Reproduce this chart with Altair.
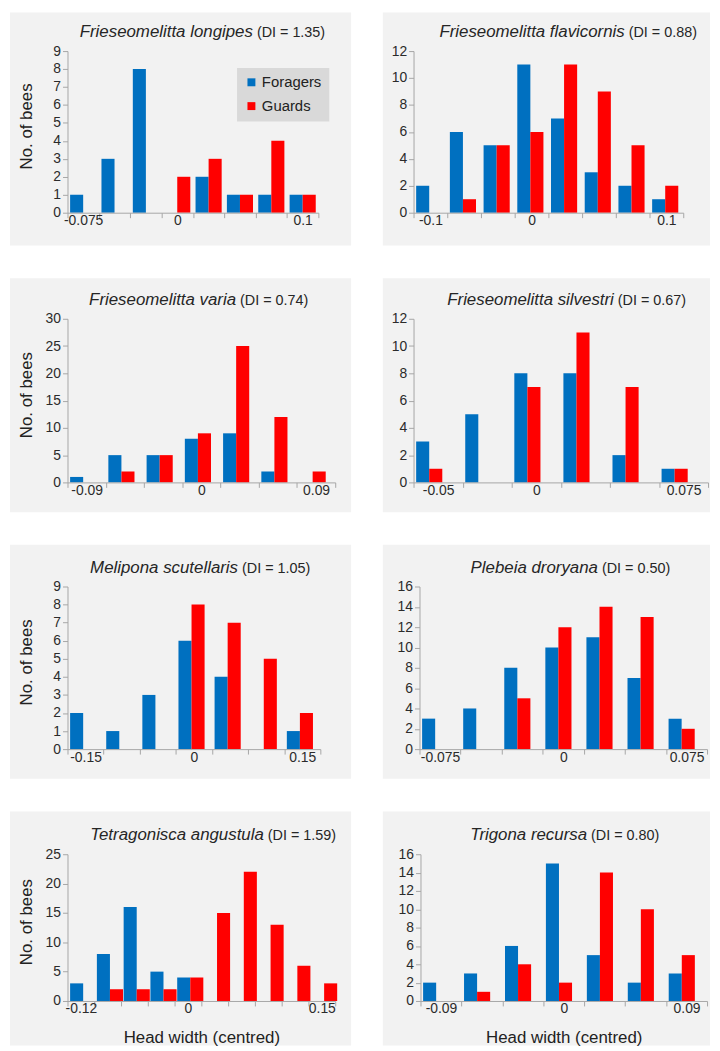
import json
import altair as alt
import pandas as pd

FONT = "Liberation Sans"
BLUE = "#0070c0"
RED = "#ff0000"
PANEL_BG = "#f2f2f2"
AXIS_GRAY = "#a6a6a6"
SERIES = ["Foragers", "Guards"]

species = ["Frieseomelitta longipes", "Frieseomelitta flavicornis",
           "Frieseomelitta varia", "Frieseomelitta silvestri",
           "Melipona scutellaris", "Plebeia droryana",
           "Tetragonisca angustula", "Trigona recursa"]
di_text = ["(DI = 1.35)", "(DI = 0.88)", "(DI = 0.74)", "(DI = 0.67)",
           "(DI = 1.05)", "(DI = 0.50)", "(DI = 1.59)", "(DI = 0.80)"]

longipes_foragers = [1, 3, 8, 0, 2, 1, 1, 1]
longipes_guards = [0, 0, 0, 2, 3, 1, 4, 1]
longipes_labels = ["-0.075", "", "", "0", "", "", "", "0.1"]

flavicornis_foragers = [2, 6, 5, 11, 7, 3, 2, 1]
flavicornis_guards = [0, 1, 5, 6, 11, 9, 5, 2]
flavicornis_labels = ["-0.1", "", "", "0", "", "", "", "0.1"]

varia_foragers = [1, 5, 5, 8, 9, 2, 0]
varia_guards = [0, 2, 5, 9, 25, 12, 2]
varia_labels = ["-0.09", "", "", "0", "", "", "0.09"]

silvestri_foragers = [3, 5, 8, 8, 2, 1]
silvestri_guards = [1, 0, 7, 11, 7, 1]
silvestri_labels = ["-0.05", "", "0", "", "", "0.075"]

scutellaris_foragers = [2, 1, 3, 6, 4, 0, 1]
scutellaris_guards = [0, 0, 0, 8, 7, 5, 2]
scutellaris_labels = ["-0.15", "", "", "0", "", "", "0.15"]

droryana_foragers = [3, 4, 8, 10, 11, 7, 3]
droryana_guards = [0, 0, 5, 12, 14, 13, 2]
droryana_labels = ["-0.075", "", "", "0", "", "", "0.075"]

angustula_foragers = [3, 8, 16, 5, 4, 0, 0, 0, 0, 0]
angustula_guards = [0, 2, 2, 2, 4, 15, 22, 13, 6, 3]
angustula_labels = ["-0.12", "", "", "", "0", "", "", "", "", "0.15"]

recursa_foragers = [2, 3, 6, 15, 5, 2, 3]
recursa_guards = [0, 1, 4, 2, 14, 10, 5]
recursa_labels = ["-0.09", "", "", "0", "", "", "0.09"]

y_max = [9, 12, 30, 12, 9, 16, 25, 16]
y_step = [1, 2, 5, 2, 1, 2, 5, 2]


def panel(i, foragers, guards, labels, W, H, L, R, T, B, pad, J,
          ytitle=False, xtitle=False, legend=False):
    n = len(foragers)
    df = pd.DataFrame({
        "bin": list(range(1, n + 1)) * 2,
        "series": ["Foragers"] * n + ["Guards"] * n,
        "count": foragers + guards,
    })
    label_expr = json.dumps(labels) + "[datum.value - 1]"

    bg = alt.Chart(pd.DataFrame({"k": [0]})).mark_rect(color=PANEL_BG).encode(
        x=alt.value(-L), x2=alt.value(W + R), y=alt.value(-T), y2=alt.value(H + B)
    )

    xaxis_kw = dict(labelExpr=label_expr, labelAngle=0, tickBand="extent",
                    tickSize=5, labelPadding=-4, domainColor=AXIS_GRAY,
                    tickColor=AXIS_GRAY, zindex=1, labelFontSize=14,
                    labelColor="#2b2b2b", labelFont=FONT)
    if xtitle:
        xaxis_kw.update(title="Head width (centred)", titleY=37,
                        titleBaseline="middle", titleFontSize=17,
                        titleFont=FONT, titleColor="#222222",
                        titleFontWeight="normal")
    else:
        xaxis_kw.update(title=None)

    yaxis_kw = dict(values=list(range(0, y_max[i] + 1, y_step[i])),
                    tickSize=5, labelPadding=2, domainColor=AXIS_GRAY,
                    tickColor=AXIS_GRAY, grid=False, zindex=1,
                    labelFontSize=14, labelColor="#2b2b2b", labelFont=FONT)
    if ytitle:
        yaxis_kw.update(title="No. of bees", titleX=-41, titleY=H / 2 - 6,
                        titleAlign="center", titleBaseline="middle",
                        titleFontSize=17, titleFont=FONT,
                        titleColor="#222222", titleFontWeight="normal")
    else:
        yaxis_kw.update(title=None)

    if legend:
        leg = alt.Legend(title=None, orient="none", legendX=171, legendY=17,
                         fillColor="#d9d9d9", padding=7, symbolType="square",
                         symbolSize=64, symbolStrokeWidth=0, labelFontSize=15,
                         labelFont=FONT, labelColor="#222222", rowPadding=8,
                         labelOffset=3)
    else:
        leg = None

    bars = alt.Chart(df).mark_bar(strokeWidth=0).encode(
        x=alt.X("bin:O", scale=alt.Scale(paddingInner=0, paddingOuter=0),
                axis=alt.Axis(**xaxis_kw)),
        xOffset=alt.XOffset("series:N",
                            scale=alt.Scale(domain=SERIES, paddingInner=0,
                                            paddingOuter=pad)),
        y=alt.Y("count:Q", scale=alt.Scale(domain=[0, y_max[i]], nice=False),
                axis=alt.Axis(**yaxis_kw)),
        color=alt.Color("series:N",
                        scale=alt.Scale(domain=SERIES, range=[BLUE, RED]),
                        legend=leg),
    )

    tdf = pd.DataFrame({"species": [species[i]], "di": [di_text[i]]})
    sp = alt.Chart(tdf).mark_text(align="right", baseline="alphabetic",
                                  font=FONT, fontSize=17, fontStyle="italic",
                                  color="#262626").encode(
        x=alt.value(J - 2), y=alt.value(-14), text="species:N")
    dt = alt.Chart(tdf).mark_text(align="left", baseline="alphabetic",
                                  font=FONT, fontSize=14.5,
                                  color="#262626").encode(
        x=alt.value(J + 2), y=alt.value(-14), text="di:N")

    return alt.layer(bg, bars, sp, dt).properties(width=W, height=H)


# left column: rect spans 344 px, L = 58 ; right column: rect spans 330 px
p1 = panel(0, longipes_foragers, longipes_guards, longipes_labels,
           W=253, H=163, L=58, R=33, T=39, B=33, pad=0.2, J=189,
           ytitle=True, legend=True)
p2 = panel(1, flavicornis_foragers, flavicornis_guards, flavicornis_labels,
           W=272, H=163, L=31, R=27, T=39, B=33, pad=0.31, J=215)
p3 = panel(2, varia_foragers, varia_guards, varia_labels,
           W=270, H=165, L=58, R=16, T=41, B=30, pad=0.45, J=172,
           ytitle=True)
p4 = panel(3, silvestri_foragers, silvestri_guards, silvestri_labels,
           W=297, H=165, L=31, R=2, T=41, B=30, pad=0.86, J=204)
p5 = panel(4, scutellaris_foragers, scutellaris_guards, scutellaris_labels,
           W=255, H=164, L=58, R=31, T=42, B=30, pad=0.35, J=174,
           ytitle=True)
p6 = panel(5, droryana_foragers, droryana_guards, droryana_labels,
           W=290, H=164, L=37, R=3, T=42, B=30, pad=0.53, J=182)
p7 = panel(6, angustula_foragers, angustula_guards, angustula_labels,
           W=270, H=148, L=58, R=16, T=43, B=45, pad=0.0, J=200,
           ytitle=True, xtitle=True)
p8 = panel(7, recursa_foragers, recursa_guards, recursa_labels,
           W=289, H=148, L=38, R=3, T=43, B=45, pad=0.47, J=170,
           xtitle=True)

rows = [alt.hconcat(a, b, spacing=32).resolve_scale(color="independent")
        for a, b in [(p1, p2), (p3, p4), (p5, p6), (p7, p8)]]

chart = alt.vconcat(*rows, spacing=33).resolve_scale(
    color="independent"
).properties(
    padding={"left": 2, "top": 0, "right": 2, "bottom": 0},
    background="white",
).configure_view(stroke=None)

chart.save("out.html", embed_options={"renderer": "svg", "actions": False})
